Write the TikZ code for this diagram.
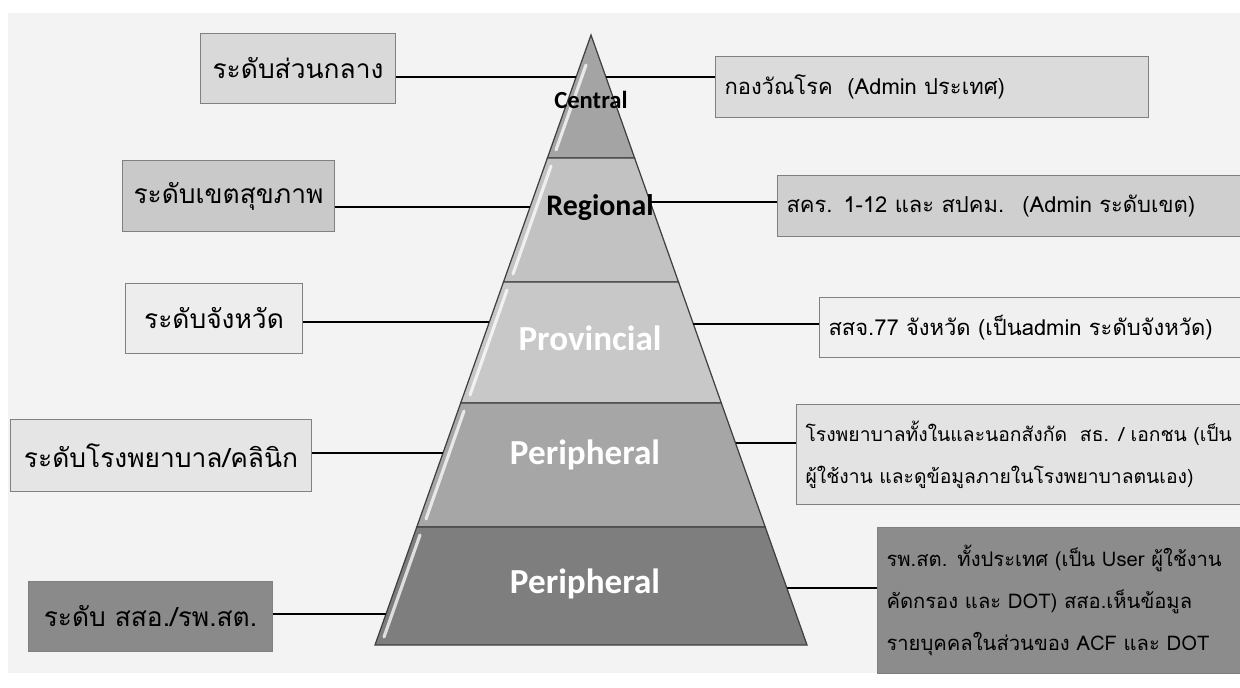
\documentclass[tikz,border=0pt]{standalone}
\usepackage{fontspec}
\setmainfont{Carlito}
\newfontfamily\thaifont[Script=Thai]{Loma}
\usetikzlibrary{positioning}
\usetikzlibrary{calc}
\definecolor{bggray}{HTML}{F3F3F3}
\definecolor{tierA}{HTML}{A4A4A4}
\definecolor{tierB}{HTML}{C2C2C2}
\definecolor{tierC}{HTML}{C8C8C8}
\definecolor{tierD}{HTML}{A6A6A6}
\definecolor{tierE}{HTML}{7E7E7E}
\tikzset{
    lbox/.style = {rectangle, draw=gray, line width=0.6pt, anchor=north west, inner sep=0pt, font=\thaifont\fontsize{15}{18}\selectfont},
    rbox/.style = {rectangle, draw=gray, line width=0.6pt, anchor=north west, align=left, inner xsep=0.18cm, font=\thaifont\fontsize{12.5}{24.5}\selectfont},
    smalltext/.style = {font=\thaifont\fontsize{#1}{24}\selectfont},
    layer/.style = {draw=black!75, line width=0.7pt},
    gloss/.style = {white, line width=1.8pt, opacity=0.75, line cap=round},
    link/.style = {black, line width=1.5pt},
    tiername/.style = {font=\bfseries\fontsize{20}{24}\selectfont, text=white},
    tiernamek/.style = {font=\bfseries\fontsize{#1}{#1}\selectfont, text=black}
}

\begin{document}
\begin{tikzpicture}[x=0.02cm, y=-0.02cm]
\useasboundingbox (0,0) rectangle (1240,688);
\fill[white] (0,0) rectangle (1240,688);
\fill[bggray] (8,13) rectangle (1240,673);
% pyramid edge points for the links
\coordinate (p1) at (576.1,77);
\coordinate (p2) at (530.1,207);
\coordinate (p3) at (489.4,322);
\coordinate (p4) at (443.0,453);
\coordinate (p5) at (386.0,614);
\coordinate (q1) at (605.9,77);
\coordinate (q2) at (650.1,202);
\coordinate (q3) at (693.3,324);
\coordinate (q4) at (735.5,443);
\coordinate (q5) at (786.8,588);
%
\filldraw[layer, fill=tierA] (591,35) -- (634.6,158) -- (547.4,158) -- cycle;
\filldraw[layer, fill=tierB] (547.4,158) -- (634.6,158) -- (678.5,282) -- (503.5,282) -- cycle;
\filldraw[layer, fill=tierC] (503.5,282) -- (678.5,282) -- (721.3,403) -- (460.7,403) -- cycle;
\filldraw[layer, fill=tierD] (460.7,403) -- (721.3,403) -- (765.2,527) -- (416.8,527) -- cycle;
\filldraw[layer, fill=tierE] (416.8,527) -- (765.2,527) -- (807,645) -- (375,645) -- cycle;
\draw[gloss] (586,65) -- (556,150);
\draw[gloss] (551,166) -- (513,274);
\draw[gloss] (507,290) -- (470,395);
\draw[gloss] (464,411) -- (426,519);
\draw[gloss] (420,535) -- (384,637);
%
\node[tiernamek=14] at (591,100) (central) {Central};
\node[tiernamek=17] at (600,208) (regional) {Regional};
\node[tiername] at (590,338) (provincial) {Provincial};
\node[tiername] at (585,455) (peri1) {Peripheral};
\node[tiername] at (585,584) (peri2) {Peripheral};
%
\node[lbox, fill=black!15, minimum width=3.9cm, minimum height=1.4cm] at (200,33) (l1) {ระดับส่วนกลาง};
\node[lbox, fill=black!21, minimum width=4.24cm, minimum height=1.42cm] at (122,160) (l2) {ระดับเขตสุขภาพ};
\node[lbox, fill=black!7, minimum width=3.54cm, minimum height=1.4cm] at (125,283) (l3) {ระดับจังหวัด};
\node[lbox, fill=black!10, minimum width=6.02cm, minimum height=1.44cm] at (10,419) (l4) {ระดับโรงพยาบาล/คลินิก};
\node[lbox, fill=black!46, minimum width=4.88cm, minimum height=1.4cm] at (28,581) (l5) {ระดับ สสอ./รพ.สต.};
%
\node[rbox, fill=black!14, text width=8.3cm, minimum height=1.22cm] at (715,56) (r1) {กองวัณโรค~ (Admin ประเทศ)};
\node[rbox, fill=black!19, text width=9.5cm, minimum height=1.22cm] at (777,175) (r2) {สคร. 1-12 และ สปคม.~ (Admin ระดับเขต)};
\node[rbox, fill=black!6, text width=9.5cm, minimum height=1.2cm] at (819,297) (r3) {สสจ.77 จังหวัด (เป็นadmin ระดับจังหวัด)};
\node[rbox, smalltext=11, fill=black!11, text width=10cm, minimum height=2.0cm] at (796,404) (r4) {โรงพยาบาลทั้งในและนอกสังกัด~ สธ. / เอกชน (เป็น\\ผู้ใช้งาน และดูข้อมูลภายในโรงพยาบาลตนเอง)};
\node[rbox, smalltext=11.5, fill=black!45, text width=10cm, minimum height=2.92cm] at (877,527) (r5) {รพ.สต. ทั้งประเทศ (เป็น User ผู้ใช้งาน\\คัดกรอง และ DOT) สสอ.เห็นข้อมูล\\รายบุคคลในส่วนของ ACF และ DOT};
%
\draw[link] (l1.east |- p1) -- (p1);
\draw[link] (l2.east |- p2) -- (p2);
\draw[link] (l3.east |- p3) -- (p3);
\draw[link] (l4.east |- p4) -- (p4);
\draw[link] (l5.east |- p5) -- (p5);
\draw[link] (q1) -- (r1.west |- q1);
\draw[link] (q2) -- (r2.west |- q2);
\draw[link] (q3) -- (r3.west |- q3);
\draw[link] (q4) -- (r4.west |- q4);
\draw[link] (q5) -- (r5.west |- q5);
\end{tikzpicture}
\end{document}
